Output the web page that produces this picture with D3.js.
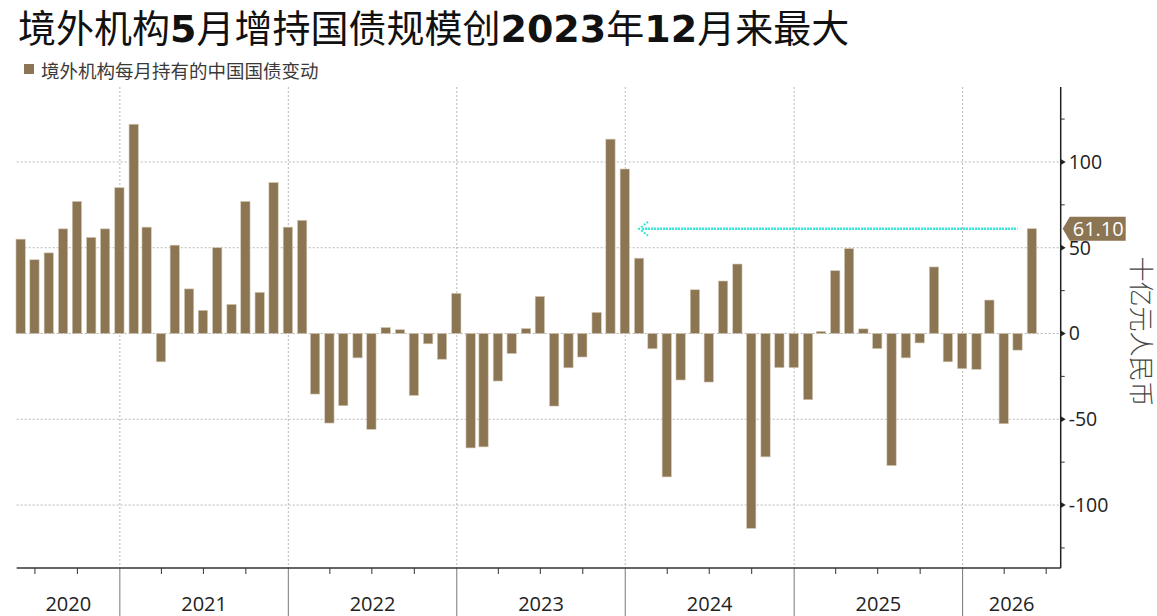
<!DOCTYPE html>
<html>
<head>
<meta charset="utf-8">
<script src="https://cdn.jsdelivr.net/npm/d3@7"></script>
<style>
  html, body { margin: 0; padding: 0; background: #fff; }
  svg { display: block; }
</style>
</head>
<body>
<div id="chart"></div>
<script>
const months = [
  "2020-05","2020-06","2020-07","2020-08","2020-09","2020-10","2020-11","2020-12",
  "2021-01","2021-02","2021-03","2021-04","2021-05","2021-06","2021-07","2021-08","2021-09","2021-10","2021-11","2021-12",
  "2022-01","2022-02","2022-03","2022-04","2022-05","2022-06","2022-07","2022-08","2022-09","2022-10","2022-11","2022-12",
  "2023-01","2023-02","2023-03","2023-04","2023-05","2023-06","2023-07","2023-08","2023-09","2023-10","2023-11","2023-12",
  "2024-01","2024-02","2024-03","2024-04","2024-05","2024-06","2024-07","2024-08","2024-09","2024-10","2024-11","2024-12",
  "2025-01","2025-02","2025-03","2025-04","2025-05","2025-06","2025-07","2025-08","2025-09","2025-10","2025-11","2025-12",
  "2026-01","2026-02","2026-03","2026-04","2026-05"
];

// 十亿元人民币
const values = [
  55, 43, 47, 61, 77, 56, 61, 85,
  122, 62, -16.5, 51.5, 26, 13.5, 50, 17, 77, 24, 88, 62,
  66, -35.3, -52.2, -42.1, -14.2, -55.9, 3.5, 2.2, -36.1, -6, -15, 23.4,
  -66.7, -66.1, -27.7, -11.7, 2.9, 21.6, -42.3, -20, -13.7, 12.3, 113.3, 95.9,
  43.9, -8.9, -83.6, -27.1, 25.5, -28.3, 30.6, 40.5, -113.6, -71.9, -19.9, -19.9,
  -38.6, 1.2, 36.6, 49.5, 2.7, -8.8, -77, -14.2, -5.5, 38.8, -16.5, -20.5,
  -20.9, 19.5, -52.6, -9.7, 61.1
];

const yearLabels = ["2020", "2021", "2022", "2023", "2024", "2025", "2026"];
const yTicks = [-100, -50, 0, 50, 100];
const lastLabel = "61.10";
const arrowFrom = "2024-01"; // arrow tip month
const arrowTo = "2026-04";

const W = 1157, H = 616;
const plot = {left: 16.7, right: 1060.7, top: 87, bottom: 568};
const barColor = "#8b7553";
const arrowColor = "#33e5d2";
const sansFont = "'Open Sans', 'Noto Sans', sans-serif";
const cjkFont = "'Noto Sans CJK SC', sans-serif";

const parseMonth = d3.timeParse("%Y-%m");
const monthEnd = s => d3.timeDay.offset(d3.timeMonth.offset(parseMonth(s), 1), -1);
const data = months.map((m, i) => ({date: monthEnd(m), value: values[i]}));

const svg = d3.select("#chart").append("svg")
  .attr("width", W)
  .attr("height", H)
  .style("background", "#fff");

const x = d3.scaleTime()
  .domain([new Date(2020, 4, 22, 12), new Date(2026, 7, 1, 12)])
  .range([plot.left, plot.right]);

const y = d3.scaleLinear()
  .domain([-136.7, 143.7])
  .range([plot.bottom, plot.top]);

// title: CJK regular, digits bold
const title = svg.append("text")
  .attr("x", 18)
  .attr("y", 42)
  .attr("fill", "#111")
  .style("font-size", "38px")
  .style("font-family", cjkFont);
[["境外机构", false], ["5", true], ["月增持国债规模创", false], ["2023", true], ["年", false], ["12", true], ["月来最大", false]]
  .forEach(([t, bold]) => {
    title.append("tspan")
      .text(t)
      .style("font-family", bold ? "'DejaVu Sans', sans-serif" : cjkFont)
      .style("font-weight", bold ? "bold" : "normal");
  });

// legend
svg.append("rect")
  .attr("x", 24).attr("y", 64)
  .attr("width", 10).attr("height", 10)
  .attr("fill", barColor);
svg.append("text")
  .attr("x", 41)
  .attr("y", 78)
  .attr("fill", "#3a3a3a")
  .style("font-size", "18.5px")
  .style("font-family", cjkFont)
  .text("境外机构每月持有的中国国债变动");

const g = svg.append("g");

// horizontal grid
g.selectAll(".hgrid")
  .data(yTicks)
  .enter().append("line")
    .attr("class", "hgrid")
    .attr("x1", plot.left).attr("x2", plot.right)
    .attr("y1", d => y(d)).attr("y2", d => y(d))
    .attr("stroke", "#b8b8b8")
    .attr("stroke-width", 1)
    .attr("stroke-dasharray", "2,2");

// year boundaries
const yearStarts = d3.timeYears(x.domain()[0], x.domain()[1]);
g.selectAll(".vgrid")
  .data(yearStarts)
  .enter().append("line")
    .attr("class", "vgrid")
    .attr("x1", d => x(d)).attr("x2", d => x(d))
    .attr("y1", plot.top).attr("y2", plot.bottom)
    .attr("stroke", "#b8b8b8")
    .attr("stroke-width", 1)
    .attr("stroke-dasharray", "2,2");

g.selectAll(".ysep")
  .data(yearStarts)
  .enter().append("line")
    .attr("class", "ysep")
    .attr("x1", d => x(d)).attr("x2", d => x(d))
    .attr("y1", plot.bottom).attr("y2", H)
    .attr("stroke", "#777")
    .attr("stroke-width", 1);

// quarter ticks
const quarters = d3.timeMonth.every(3).range(x.domain()[0], x.domain()[1])
  .filter(d => d.getMonth() !== 0);
g.selectAll(".qtick")
  .data(quarters)
  .enter().append("line")
    .attr("class", "qtick")
    .attr("x1", d => x(d)).attr("x2", d => x(d))
    .attr("y1", plot.bottom).attr("y2", plot.bottom + 6)
    .attr("stroke", "#333")
    .attr("stroke-width", 1);

// bars
const barW = 9.3;
g.selectAll(".bar")
  .data(data)
  .enter().append("rect")
    .attr("class", "bar")
    .attr("x", d => x(d.date) - barW / 2)
    .attr("y", d => y(Math.max(0, d.value)))
    .attr("width", barW)
    .attr("height", d => Math.abs(y(d.value) - y(0)))
    .attr("fill", barColor)
    .attr("stroke", "#d3c8b4")
    .attr("stroke-width", 0.6);

// year labels, centred in visible part of each year
g.selectAll(".year")
  .data(yearLabels)
  .enter().append("text")
    .attr("class", "year")
    .attr("x", d => {
      const a = Math.max(x(new Date(+d, 0, 1)), plot.left);
      const b = Math.min(x(new Date(+d + 1, 0, 1)), plot.right);
      return (a + b) / 2;
    })
    .attr("y", 611)
    .attr("text-anchor", "middle")
    .attr("fill", "#222")
    .style("font-size", "20px")
    .style("font-family", sansFont)
    .text(d => d);

// bottom axis line
g.append("line")
  .attr("x1", plot.left).attr("x2", plot.right)
  .attr("y1", plot.bottom).attr("y2", plot.bottom)
  .attr("stroke", "#333")
  .attr("stroke-width", 1.5);

// right axis
g.append("line")
  .attr("x1", plot.right).attr("x2", plot.right)
  .attr("y1", plot.top).attr("y2", plot.bottom)
  .attr("stroke", "#222")
  .attr("stroke-width", 1.5);

const minorTicks = d3.range(-125, 150, 25).filter(v => v % 50 !== 0);
g.selectAll(".ytick-minor")
  .data(minorTicks)
  .enter().append("line")
    .attr("class", "ytick-minor")
    .attr("x1", plot.right).attr("x2", plot.right + 4)
    .attr("y1", d => y(d)).attr("y2", d => y(d))
    .attr("stroke", "#333")
    .attr("stroke-width", 1);

g.selectAll(".ytick")
  .data(yTicks)
  .enter().append("path")
    .attr("class", "ytick")
    .attr("d", d => `M${plot.right},${y(d) - 3}L${plot.right + 5},${y(d)}L${plot.right},${y(d) + 3}Z`)
    .attr("fill", "#222");

g.selectAll(".ylabel")
  .data(yTicks)
  .enter().append("text")
    .attr("class", "ylabel")
    .attr("x", plot.right + 8)
    .attr("y", d => y(d))
    .attr("dy", "0.35em")
    .attr("fill", "#222")
    .style("font-size", "19.5px")
    .style("font-family", sansFont)
    .text(d => d < 0 ? "-" + Math.abs(d) : d);

// axis title
svg.append("text")
  .attr("transform", `translate(1132,${y(0) - 2}) rotate(90)`)
  .attr("text-anchor", "middle")
  .attr("fill", "#444")
  .style("font-size", "25px")
  .style("font-weight", "300")
  .style("font-family", cjkFont)
  .text("十亿元人民币");

// annotation arrow from the latest value back
const last = data[data.length - 1];
const ay = y(last.value);
const ax1 = x(monthEnd(arrowFrom));
const ax2 = x(monthEnd(arrowTo));
g.append("line")
  .attr("x1", ax1 + 3).attr("x2", ax2)
  .attr("y1", ay).attr("y2", ay)
  .attr("stroke", arrowColor)
  .attr("stroke-width", 2.4)
  .attr("stroke-dasharray", "2,1");
g.append("path")
  .attr("d", `M${ax1 + 9},${ay - 7}L${ax1},${ay}L${ax1 + 9},${ay + 7}`)
  .attr("fill", "none")
  .attr("stroke", arrowColor)
  .attr("stroke-width", 2)
  .attr("stroke-dasharray", "2,1.5");

// value tag
const tagX = plot.right + 2;
const tag = g.append("g").attr("transform", `translate(${tagX},${ay})`);
tag.append("path")
  .attr("d", "M0,0L7,-12L63,-12L63,12L7,12Z")
  .attr("fill", barColor);
tag.append("text")
  .attr("x", 35.5)
  .attr("y", 0)
  .attr("dy", "0.36em")
  .attr("text-anchor", "middle")
  .attr("fill", "#fff")
  .style("font-size", "20px")
  .style("font-family", sansFont)
  .text(lastLabel);
</script>
</body>
</html>
